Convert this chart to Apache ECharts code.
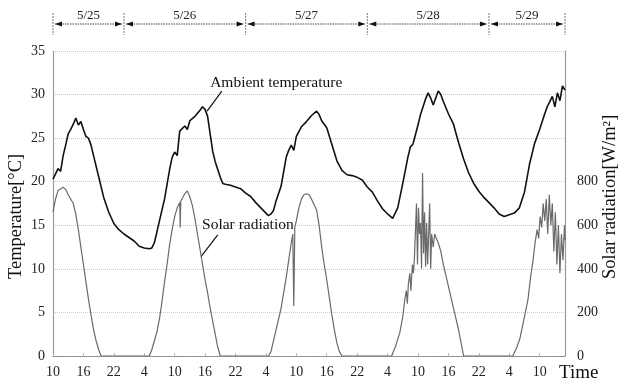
<!DOCTYPE html>
<html><head><meta charset="utf-8">
<script src="https://cdn.jsdelivr.net/npm/echarts@6/dist/echarts.min.js"></script>
<style>html,body{margin:0;padding:0;background:#fff}#c{width:622px;height:385px}</style>
</head><body><div id="c"></div><script>
// hours elapsed since 5/25 10:00
const tempHours = [0,0.5,1,1.5,2,2.5,3,3.5,4,4.5,5,5.5,6,6.5,7,7.5,8,9,10,11,12,13,14,15,16,17,18,19,19.5,20,21,22,23,23.5,24,24.5,25,26,26.5,27,28,29,29.5,30,30.5,31,31.5,32,33,33.5,34,35,36,37,38,39,40,41,42,42.5,43,43.5,44,45,46,46.5,47,47.5,48,49,50,51,52,52.5,53,54,55,56,57,58,59,60,61,62,63,64,65,66,67,68,69,70,70.5,71,72,72.5,73,73.5,74,74.5,75,75.5,76,76.5,77,78,79,80,81,82,83,84,85,86,87,88,89,90,91,92,93,94,95,96,97,97.5,98,98.5,99,99.5,100,100.5,101];
const tempValues = [20.3,20.9,21.5,21.2,23.0,24.2,25.5,26.0,26.6,27.3,26.5,26.9,26.0,25.2,25.0,24.2,23.0,20.6,18.2,16.5,15.2,14.5,14.0,13.6,13.2,12.6,12.4,12.3,12.4,13.0,15.5,18.0,21.4,22.8,23.4,23.0,25.8,26.4,26.0,27.0,27.5,28.2,28.6,28.3,27.5,25.5,23.5,22.3,20.5,19.8,19.7,19.6,19.4,19.2,18.7,18.3,17.6,17.0,16.4,16.1,16.3,16.7,17.8,19.5,22.8,23.6,24.2,23.6,25.2,26.3,26.9,27.6,28.1,27.7,27.0,26.2,24.3,22.4,21.3,20.8,20.7,20.5,20.2,19.4,18.8,17.8,16.9,16.3,15.8,17.0,19.8,22.8,24.0,24.3,26.5,27.7,28.6,29.5,30.2,29.6,28.8,29.6,30.4,30.0,29.2,27.8,26.6,24.5,22.6,21.0,19.8,18.9,18.2,17.6,17.0,16.3,16.0,16.2,16.4,17.0,18.8,22.0,24.4,26.0,27.8,28.6,29.2,29.8,28.6,30.2,29.3,31.0,30.5];
const solarHours = [0,0.5,1,2,2.5,3,4,4.5,5,5.5,6,6.5,7,7.5,8,8.5,9,9.5,19,19.5,20,20.5,21,21.5,22,22.5,23,23.5,24,24.5,25,25.1,25.2,26,26.5,27,27.5,28,28.5,29,29.5,30,30.5,31,31.5,32,32.5,33,42.5,43,44,45,46,46.5,47,47.3,47.5,47.7,48,48.5,49,49.5,50,50.5,51,52,52.5,53,53.5,54,54.5,55,55.5,56,56.5,57,66.8,67.5,68.4,69,69.4,69.7,69.9,70.1,70.4,70.6,70.9,71.1,71.3,71.5,71.7,71.9,72.1,72.3,72.5,72.7,72.9,73.1,73.3,73.5,73.7,73.9,74.1,74.3,74.5,74.7,75.0,75.3,75.6,76,76.5,77,77.5,78,78.5,79,79.5,80,80.5,81,90.7,91.5,92.1,93,93.7,94.2,94.7,95.1,95.5,95.8,96.1,96.4,96.7,97.0,97.3,97.6,97.9,98.2,98.5,98.8,99.1,99.4,99.7,100.0,100.3,100.6,100.9,101];
const solarValues = [660,720,760,775,765,740,700,650,580,500,420,340,260,190,120,70,30,0,0,30,70,110,170,250,340,420,510,580,640,680,705,590,710,745,758,730,690,630,560,490,420,350,290,220,160,100,40,0,0,20,120,220,360,440,520,560,230,590,620,680,720,740,745,740,720,670,600,500,420,350,270,190,120,60,20,0,0,40,106,180,260,300,240,330,380,300,420,380,450,450,700,420,680,560,610,400,840,470,660,410,610,420,560,700,400,560,500,560,540,520,480,420,370,320,270,220,170,120,60,0,0,40,80,180,260,360,440,520,580,540,640,590,700,620,720,560,740,600,700,480,660,420,600,380,560,440,600,530];
const startClock = 10;
const dayLabels = ['5/25','5/26','5/27','5/28','5/29'];
const dayBounds = [0,14,38,62,86,101];
const tempTicks = [0,5,10,15,20,25,30,35];
const solarTickMaxShown = 800;

const SERIF = "'Liberation Serif','Times New Roman',serif";
const chart = echarts.init(document.getElementById('c'), null, {renderer:'canvas'});
const option = {
  animation:false,
  backgroundColor:'#fff',
  grid:{left:53,right:57,top:51,bottom:29},
  xAxis:{type:'value',min:0,max:101,interval:6,
    axisLine:{show:true,lineStyle:{color:'#888',type:'dotted',width:1.2}},
    axisTick:{show:true,inside:true,length:3,lineStyle:{color:'#bbb'}},
    splitLine:{show:false},
    axisLabel:{showMaxLabel:false,margin:9,fontFamily:SERIF,fontSize:14,color:'#222',
      formatter:v=> (v%6===0 ? String((v+startClock)%24) : '')}
  },
  yAxis:[
    {type:'value',min:0,max:35,interval:5,
      axisLine:{show:true,lineStyle:{color:'#999',width:1.2}},
      axisTick:{show:false},
      splitLine:{show:true,lineStyle:{color:'#c8c8c8',type:'dotted',width:1}},
      axisLabel:{margin:8,fontFamily:SERIF,fontSize:14,color:'#222'}},
    {type:'value',min:0,max:1400,interval:200,position:'right',
      axisLine:{show:true,lineStyle:{color:'#999',width:1.2}},
      axisTick:{show:false},splitLine:{show:false},
      axisLabel:{margin:12,fontFamily:SERIF,fontSize:14,color:'#222',
        formatter:v=> (v<=solarTickMaxShown ? String(v) : '')}}
  ],
  series:[
    {name:'Solar radiation',type:'line',yAxisIndex:1,showSymbol:false,
      lineStyle:{color:'#6a6a6a',width:1.2},
      data:solarHours.map((h,i)=>[h,solarValues[i]])},
    {name:'Ambient temperature',type:'line',yAxisIndex:0,showSymbol:false,
      lineStyle:{color:'#111',width:1.6},
      data:tempHours.map((h,i)=>[h,tempValues[i]])}
  ]
};
chart.setOption(option);

function px(h,t){return chart.convertToPixel({gridIndex:0},[h,t]);}
const g = [];
// date bar
const barY = 24, divTop = 13, divBot = 35;
dayBounds.forEach(h=>{
  const x = px(h,0)[0];
  g.push({type:'line',shape:{x1:x,y1:divTop,x2:x,y2:divBot},style:{stroke:'#777',lineWidth:1,lineDash:[2,1]}});
});
for(let i=0;i<dayLabels.length;i++){
  const x1 = px(dayBounds[i],0)[0]+2, x2 = px(dayBounds[i+1],0)[0]-2;
  g.push({type:'line',shape:{x1:x1,y1:barY,x2:x2,y2:barY},style:{stroke:'#444',lineWidth:1,lineDash:[1.5,1]}});
  g.push({type:'polygon',shape:{points:[[x1,barY],[x1+7,barY-2.5],[x1+7,barY+2.5]]},style:{fill:'#111'}});
  g.push({type:'polygon',shape:{points:[[x2,barY],[x2-7,barY-2.5],[x2-7,barY+2.5]]},style:{fill:'#111'}});
  g.push({type:'text',x:(x1+x2)/2,y:16,style:{text:dayLabels[i],textAlign:'center',textVerticalAlign:'middle',font:'13px '+SERIF,fill:'#222'}});
}
// annotations
const a1 = px(31.0,31.3), l1a = px(33.3,30.4), l1b = px(30.4,28.1);
g.push({type:'text',x:a1[0],y:a1[1],style:{text:'Ambient temperature',textAlign:'left',textVerticalAlign:'middle',font:'15.5px '+SERIF,fill:'#111'}});
g.push({type:'line',shape:{x1:l1a[0],y1:l1a[1],x2:l1b[0],y2:l1b[1]},style:{stroke:'#111',lineWidth:1.2}});
const a2 = px(29.4,15.0), l2a = px(32.5,13.9), l2b = px(29.2,11.4);
g.push({type:'text',x:a2[0],y:a2[1],style:{text:'Solar radiation',textAlign:'left',textVerticalAlign:'middle',font:'15.5px '+SERIF,fill:'#111'}});
g.push({type:'line',shape:{x1:l2a[0],y1:l2a[1],x2:l2b[0],y2:l2b[1]},style:{stroke:'#111',lineWidth:1.2}});
// axis titles
g.push({type:'text',x:16,y:279,rotation:Math.PI/2,style:{text:'Temperature[°C]',textAlign:'left',textVerticalAlign:'middle',font:'18.5px '+SERIF,fill:'#111'}});
g.push({type:'text',x:610,y:279,rotation:Math.PI/2,style:{text:'Solar radiation[W/m²]',textAlign:'left',textVerticalAlign:'middle',font:'18.5px '+SERIF,fill:'#111'}});
const tx = px(101,0);
g.push({type:'text',x:tx[0]-6,y:373,style:{text:'Time',textAlign:'left',textVerticalAlign:'middle',font:'19px '+SERIF,fill:'#111'}});
chart.setOption({graphic:g});
</script></body></html>
